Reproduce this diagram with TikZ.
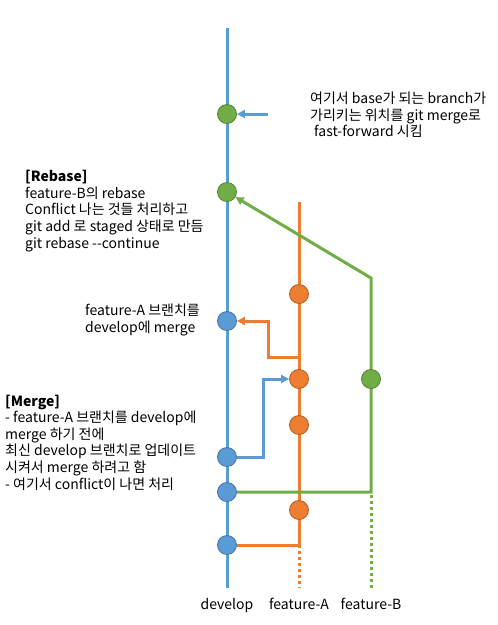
\documentclass[tikz,border=0pt]{standalone}
\usepackage{fontspec}
\setmainfont{Noto Sans CJK KR}
\usetikzlibrary{positioning,backgrounds,calc,arrows.meta}
\definecolor{devblue}{HTML}{5B9BD5}
\definecolor{featAorange}{HTML}{ED7D31}
\definecolor{featBgreen}{HTML}{70AD47}
\tikzset{commit/.style={circle, minimum size=19pt, inner sep=0pt, line width=0.8pt},
  dev commit/.style={commit, fill=devblue, draw=devblue!75!black},
  featA commit/.style={commit, fill=featAorange, draw=featAorange!75!black},
  featB commit/.style={commit, fill=featBgreen, draw=featBgreen!75!black},
  devline/.style={draw=devblue, line width=3pt},
  featAline/.style={draw=featAorange, line width=3pt},
  featBline/.style={draw=featBgreen, line width=3pt},
  dotline/.style={dash pattern=on 3pt off 3pt},
  note/.style={align=left, inner sep=0pt, font=\fontsize{14}{16.6}\selectfont}}

\begin{document}
\begin{tikzpicture}[x=1pt, y=-1pt, >={Triangle[length=8pt,width=8pt]}]
\useasboundingbox (0,0) rectangle (498,625);
% commits
\node[featB commit] (d1) at (227,114) {};
\node[featB commit] (d2) at (227,192) {};
\node[dev commit] (d3) at (227,321) {};
\node[dev commit] (d4) at (227,457) {};
\node[dev commit] (d5) at (227,492) {};
\node[dev commit] (d6) at (227,545) {};
\node[featA commit] (a1) at (299,294) {};
\node[featA commit] (a2) at (299,379) {};
\node[featA commit] (a3) at (299,425) {};
\node[featA commit] (a4) at (299,510) {};
\node[featB commit] (b1) at (371,379) {};
\coordinate (devtop) at (227,28);
\coordinate (devbot) at (227,588);
\coordinate (atop) at (299,202);
\coordinate (abot) at (299,588);
\coordinate (bbend) at (371,278);
\coordinate (bbot) at (371,588);
\coordinate (amerge) at (299,357);
\coordinate (ffsrc) at (268,114);
% branches
\begin{scope}[on background layer]
\fill[white] (0,0) rectangle (498,625);
\draw[devline] (devtop) -- (devbot);
\draw[featAline] (d6) -| (atop);
\draw[featAline, dotline] (d6 -| atop) -- (abot);
\draw[featBline, dotline] ($(d5 -| bbot)+(0,3)$) -- (bbot);
\draw[featBline, ->] (d5) -| (bbend) -- (d2);
\end{scope}
% merges
\draw[devline, ->] (d4) -- ++(36,0) |- (a2);
\draw[featAline, ->] (amerge) -- ++(-31,0) |- (d3);
\draw[devline, ->] (ffsrc) -- (d1);
% notes
\node[note, anchor=west] (ffnote) at (310,115) {여기서 base가 되는 branch가\\가리키는 위치를 git merge로\\\hspace{4pt}fast-forward 시킴};
\node[note, anchor=west] (rebasenote) at (25,211) {\textbf{[Rebase]}\\feature-B의 rebase\\Conflict 나는 것들 처리하고\\git add 로 staged 상태로 만듬\\git rebase -{}-continue};
\node[note, anchor=west] (anote) at (85,320) {feature-A 브랜치를\\develop에 merge};
\node[note, anchor=west] (mergenote) at (5,442.5) {\textbf{[Merge]}\\- feature-A 브랜치를 develop에\\merge 하기 전에\\최신 develop 브랜치로 업데이트\\시켜서 merge 하려고 함\\- 여기서 conflict이 나면 처리};
% labels
\node[note, below=10pt of devbot] (devlabel) {develop};
\node[note, below=10pt of abot] (alabel) {feature-A};
\node[note, below=10pt of bbot] (blabel) {feature-B};
\end{tikzpicture}
\end{document}
